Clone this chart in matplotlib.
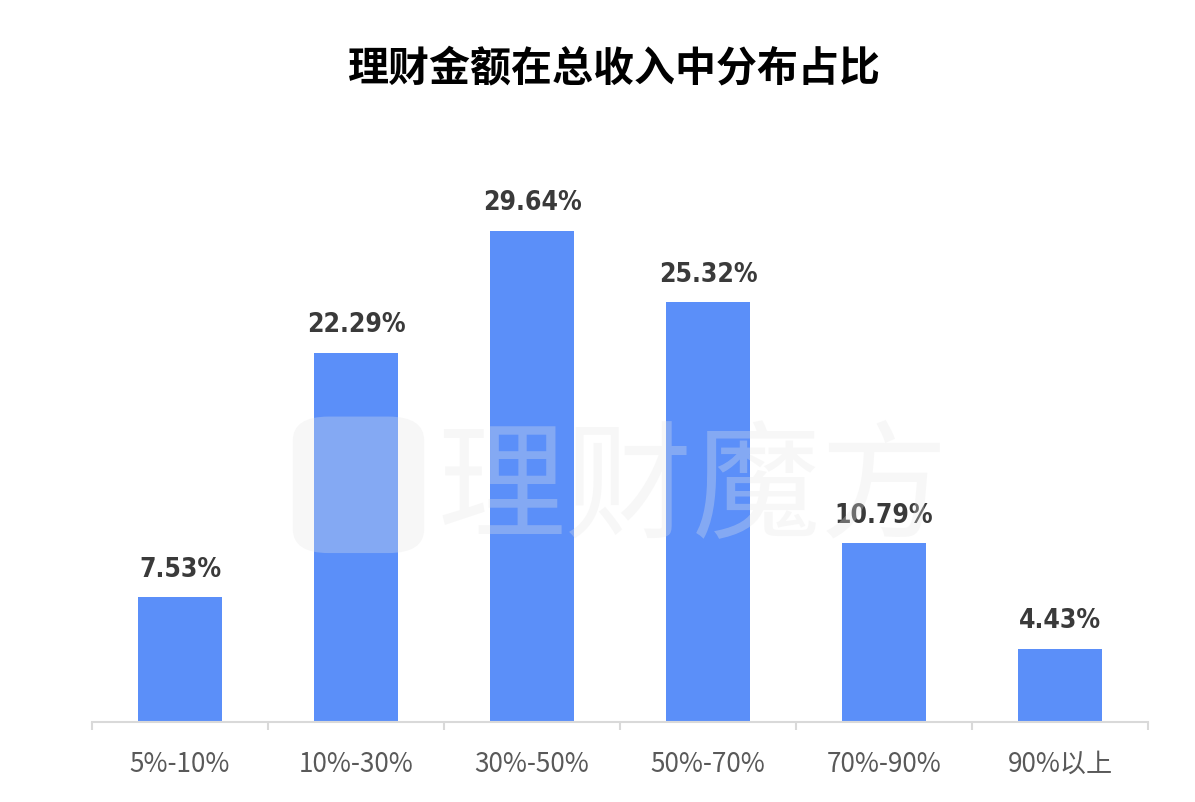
import matplotlib.pyplot as plt
from matplotlib.patches import FancyBboxPatch
import numpy as np

plt.rcParams['font.family'] = ['Noto Sans CJK SC', 'DejaVu Sans']

categories = ['5%-10%', '10%-30%', '30%-50%', '50%-70%', '70%-90%', '90%以上']
shares = [7.53, 22.29, 29.64, 25.32, 10.79, 4.43]
title = '理财金额在总收入中分布占比'
watermark = '理财魔方'

fig = plt.figure(figsize=(11.95, 8.03), dpi=100)
ax = fig.add_axes([0.077, 0.0996, 0.8837, 0.7224])

x = np.arange(len(categories))
ax.bar(x, shares, width=0.48, color='#5B8FF9', zorder=2)

for xi, v in zip(x, shares):
    ax.annotate(f'{v:.2f}%', (xi, v), xytext=(0, 11), textcoords='offset points',
                ha='center', va='bottom', fontsize=19, fontweight='bold',
                fontstretch='condensed', color='#3a3a3a', family='DejaVu Sans')

ax.set_xlim(-0.5, len(categories) - 0.5)
ax.set_ylim(0, 35)
ax.set_yticks([])
for s in ['top', 'right', 'left']:
    ax.spines[s].set_visible(False)
ax.spines['bottom'].set_color('#d9d9d9')
ax.spines['bottom'].set_linewidth(1.5)

ax.set_xticks(x)
ax.set_xticklabels(categories, fontsize=18.8, color='#595959', fontweight='light')
ax.tick_params(axis='x', which='major', length=0, pad=20)
ax.set_xticks(np.arange(-0.5, len(categories)), minor=True)
ax.tick_params(axis='x', which='minor', length=6, width=1.5, color='#d9d9d9')

fig.text(0.514, 0.915, title, ha='center', va='center', fontsize=29.5, fontweight='heavy', color='black')

# faint watermark
fig.patches.append(FancyBboxPatch((0.245, 0.31), 0.11, 0.17, boxstyle='round,pad=0,rounding_size=0.03',
                                  transform=fig.transFigure, facecolor='#e6e6e6', edgecolor='none',
                                  alpha=0.3, zorder=5))
fig.text(0.580, 0.388, watermark, ha='center', va='center', fontsize=92, color='#e6e6e6',
         alpha=0.3, zorder=5)

fig.savefig('out.png', dpi=100)
